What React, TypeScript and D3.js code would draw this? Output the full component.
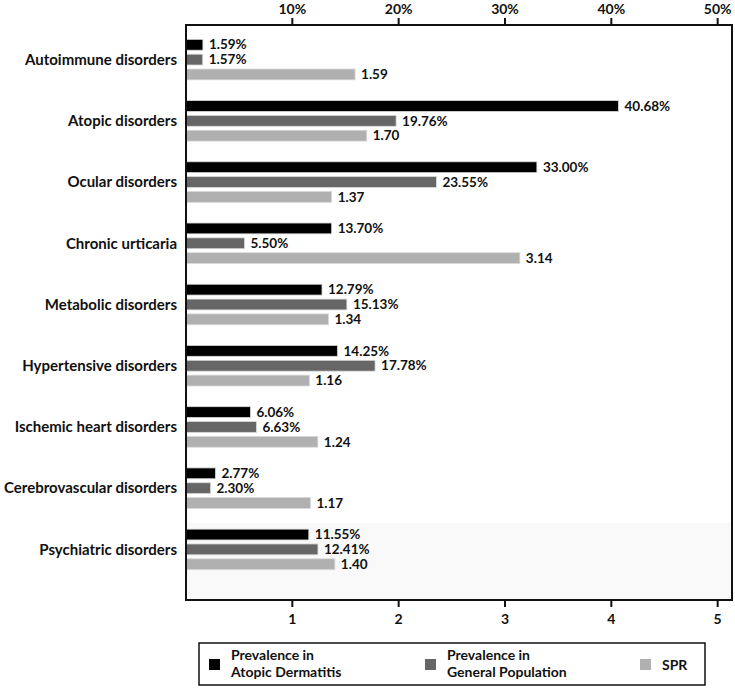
import React from 'react'
import { scaleLinear, scaleBand } from 'd3'

const categories = [
  'Autoimmune disorders',
  'Atopic disorders',
  'Ocular disorders',
  'Chronic urticaria',
  'Metabolic disorders',
  'Hypertensive disorders',
  'Ischemic heart disorders',
  'Cerebrovascular disorders',
  'Psychiatric disorders',
]
const prevAD = [1.59, 40.68, 33.0, 13.7, 12.79, 14.25, 6.06, 2.77, 11.55]
const prevGP = [1.57, 19.76, 23.55, 5.5, 15.13, 17.78, 6.63, 2.3, 12.41]
const spr = [1.59, 1.7, 1.37, 3.14, 1.34, 1.16, 1.24, 1.17, 1.4]
const pctTicks = [10, 20, 30, 40, 50]
const sprTicks = [1, 2, 3, 4, 5]
const seriesNames = ['Prevalence in AD', 'Prevalence in GP', 'SPR']
const legendLabels = [
  ['Prevalence in', 'Atopic Dermatitis'],
  ['Prevalence in', 'General Population'],
  ['SPR'],
]
const colors = ['#000000', '#666666', '#b0b0b0']

const W = 735
const H = 689
const left = 186
const right = 732
const top = 25
const bottom = 600
const font = 'Lato, "Open Sans", sans-serif'

const App = () => {
  const xSpr = scaleLinear().domain([0, 5.135]).range([left, right])
  const xPct = scaleLinear().domain([0, 51.35]).range([left, right])
  const y = scaleBand().domain(categories).range([29, 580])
  const sub = scaleBand().domain(seriesNames).range([-21, 21]).paddingInner(0.27).paddingOuter(0.05)

  const rows = categories.map((c, i) => ({
    cat: c,
    bars: [
      { key: seriesNames[0], x: xPct(prevAD[i]), label: prevAD[i].toFixed(2) + '%' },
      { key: seriesNames[1], x: xPct(prevGP[i]), label: prevGP[i].toFixed(2) + '%' },
      { key: seriesNames[2], x: xSpr(spr[i]), label: spr[i].toFixed(2) },
    ],
  }))

  // faint shading starts just above the last group
  const bandTop = (y(categories[8]) as number) + 4

  return (
    <div style={{ position: 'absolute', left: 0, top: 0 }}>
      <svg width={W} height={H} style={{ display: 'block', fontFamily: font }}>
        <rect x={0} y={0} width={W} height={H} fill="#fff" />
        <rect x={left} y={bandTop} width={right - left} height={bottom - bandTop} fill="#f9f9f9" />

        {rows.map((r) => {
          const cy = (y(r.cat) as number) + y.bandwidth() / 2
          return (
            <g key={r.cat}>
              <text x={177} y={cy} dy="0.35em" textAnchor="end" fontSize={15} fontWeight="bold" fill="#111">
                {r.cat}
              </text>
              {r.bars.map((b, j) => {
                const by = cy + (sub(b.key) as number)
                return (
                  <g key={b.key}>
                    <rect
                      x={left}
                      y={by}
                      width={b.x - left}
                      height={sub.bandwidth()}
                      fill={colors[j]}
                      stroke="#d8d8d8"
                      strokeWidth={0.8}
                    />
                    <text
                      x={b.x + 6}
                      y={by + sub.bandwidth() / 2}
                      dy="0.35em"
                      fontSize={13.5}
                      fontWeight="bold"
                      fill="#111"
                    >
                      {b.label}
                    </text>
                  </g>
                )
              })}
            </g>
          )
        })}

        <rect x={left} y={top} width={right - left} height={bottom - top} fill="none" stroke="#111" strokeWidth={2} />

        {pctTicks.map((t) => (
          <g key={'t' + t} transform={`translate(${xPct(t)},${top})`}>
            <line y1={0} y2={-7} stroke="#111" strokeWidth={2} />
            <text y={-11} textAnchor="middle" fontSize={14} fontWeight="bold" fill="#111">
              {t}%
            </text>
          </g>
        ))}

        {sprTicks.map((t) => (
          <g key={'b' + t} transform={`translate(${xSpr(t)},${bottom})`}>
            <line y1={0} y2={7} stroke="#111" strokeWidth={2} />
            <text y={24} textAnchor="middle" fontSize={14} fontWeight="bold" fill="#111">
              {t}
            </text>
          </g>
        ))}

        <rect x={199} y={643} width={506} height={42} fill="#fff" stroke="#111" strokeWidth={1.5} />
        {legendLabels.map((lines, i) => {
          const lx = [209, 425, 640][i]
          return (
            <g key={i}>
              <rect x={lx} y={659} width={11} height={11} fill={colors[i]} />
              {lines.map((ln, k) => (
                <text
                  key={k}
                  x={lx + 22}
                  y={lines.length === 1 ? 670 : 660 + k * 17}
                  fontSize={14}
                  fontWeight="bold"
                  fill="#111"
                >
                  {ln}
                </text>
              ))}
            </g>
          )
        })}
      </svg>
    </div>
  )
}

export default App
